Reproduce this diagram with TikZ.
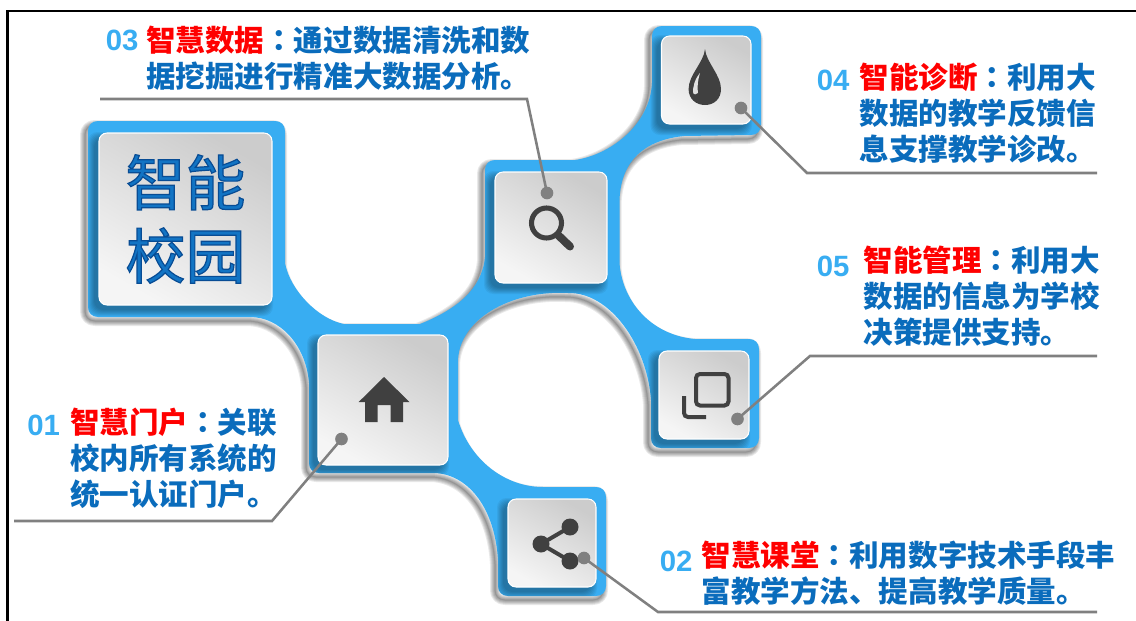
\documentclass[tikz,border=0pt]{standalone}
\usepackage{fontspec}
\newfontfamily\cjk{Noto Sans CJK SC}
\newfontfamily\cjktc{Noto Sans CJK TC}
\newfontfamily\numfont{Liberation Sans}
\definecolor{blob}{HTML}{38ADF2}
\definecolor{txtblue}{HTML}{0A6CBC}
\definecolor{bigblue}{HTML}{1274C4}
\definecolor{icon}{HTML}{404040}
\definecolor{leadgray}{HTML}{808080}
\newcommand\hlt[1]{\textcolor{red}{#1}}
\newcommand\cln{{\cjktc\bfseries ：}}
\newcommand\bevel[1]{\special{pdf:code q 2 Tr 0.9 w 0.03 0.30 0.58 RG}#1\special{pdf:code Q}}
\tikzset{
  blobpath/.style={insert path={
    (98,121) -- (275,121) .. controls (281,121) and (285,125) .. (285,131) -- (285,263)
    .. controls (290,290) and (318,319) .. (344,324) -- (420,324)
    .. controls (455,310) and (482,290) .. (485,257) -- (485,170)
    .. controls (485,164) and (489,160) .. (495,160) -- (575,160)
    .. controls (610,155) and (650,125) .. (652,83) -- (652,36)
    .. controls (652,30) and (656,26) .. (662,26) -- (751,26)
    .. controls (757,26) and (761,30) .. (761,36) -- (761,125)
    .. controls (761,131) and (757,135) .. (751,135) -- (684,136)
    .. controls (645,140) and (621,160) .. (619.5,200) -- (619.5,263)
    .. controls (622,300) and (650,335) .. (695,339) -- (749,339)
    .. controls (755,339) and (759,343) .. (759,349) -- (759,438)
    .. controls (759,444) and (755,448) .. (749,448) -- (661,448)
    .. controls (655,448) and (651,444) .. (651,438) -- (651,400)
    .. controls (647,345) and (610,292) .. (568,293)
    .. controls (510,290) and (458,320) .. (458,362) -- (458,420)
    .. controls (470,460) and (505,487) .. (543,487) -- (596,487)
    .. controls (602,487) and (606,491) .. (606,497) -- (606,586)
    .. controls (606,592) and (602,596) .. (596,596) -- (508,596)
    .. controls (502,596) and (498,592) .. (498,586) -- (498,560)
    .. controls (495,510) and (470,475) .. (435,473) -- (319,473)
    .. controls (313,473) and (309,469) .. (309,463) -- (309,383)
    .. controls (306,345) and (280,317) .. (250,317) -- (98,317)
    .. controls (92,317) and (88,313) .. (88,307) -- (88,131)
    .. controls (88,125) and (92,121) .. (98,121) -- cycle}},
  card/.style n args={2}{rectangle, rounded corners=6pt, draw=white, line width=0.8pt,
    shading=axis, top color=black!20, bottom color=black!4, shading angle=-30,
    minimum width=#1*0.75pt, minimum height=#2*0.75pt, inner sep=0pt},
  cardtext/.style={align=center, text=bigblue, font=\cjk\fontsize{45}{55}\selectfont},
  leader/.style={draw=leadgray, line width=1.9pt, line join=miter},
  dotmark/.style={circle, fill=leadgray, minimum size=9.5pt, inner sep=0pt},
  numlabel/.style={anchor=west, inner sep=0pt, text=blob, font=\numfont\bfseries\fontsize{22}{26}\selectfont},
  bodylabel/.style={anchor=north west, inner sep=0pt, align=left, text=txtblue,
    font=\cjk\bfseries\fontsize{22.15}{27}\selectfont},
  iconfill/.style={fill=icon, draw=none},
  iconline/.style={draw=icon, line width=3pt, fill=none},
}
\newcommand\cardshade[4]{%
  \foreach \w in {6,5,4,3,2,1,0}{
    \fill[black, fill opacity=0.05, rounded corners=7pt]
      (#1-5-\w,#2+5-\w) rectangle (#3-5+\w,#4+5+\w);
  }}
\begin{document}
\begin{tikzpicture}[x=0.75pt,y=-0.75pt]
\useasboundingbox (0,0) rectangle (1136,621);
\fill[white] (0,0) rectangle (1136,621);
\draw[black, line width=1.6pt] (7.5,621) -- (7.5,11) -- (1136,11);
% soft shadow of the blue body
\begin{scope}[shift={(-3,4)}]
  \foreach \w in {10,8,6,4,2,0.5}{
    \draw[black, draw opacity=0.085, line width=\w*0.75pt, line join=round, blobpath];
  }
\end{scope}
\fill[blob, blobpath];
% shadows of the cards on the blue body
\begin{scope}
  \clip[blobpath];
  \cardshade{99}{133}{272}{305}
  \cardshade{318}{335}{448}{465}
  \cardshade{495}{172}{607}{283}
  \cardshade{661.5}{36}{751}{124}
  \cardshade{659}{351}{749}{439}
  \cardshade{508}{499}{596}{587}
\end{scope}
% cards
\node[card={173}{172}, cardtext] (big) at (185.5,219) {\bevel{智能\\校园}};
\node[card={130}{130}] (home) at (383,400) {};
\node[card={112}{111}] (search) at (551,227.5) {};
\node[card={89.5}{88}] (drop) at (706.25,80) {};
\node[card={90}{88}] (copy) at (704,395) {};
\node[card={88}{88}] (share) at (552,543) {};
% home icon
\fill[iconfill] (384,377) -- (409.5,402) -- (403,402) -- (403,422) -- (390.6,422) -- (390.6,405)
  -- (377.5,405) -- (377.5,422) -- (365,422) -- (365,402) -- (358.7,402) -- cycle;
% search icon
\draw[iconline, line width=3.8pt] (546.5,223) circle (15);
\draw[icon, line width=6pt, line cap=round] (558,235) -- (570,246.5);
% drop icon
\fill[iconfill] (705,49) .. controls (704,62) and (688.6,75) .. (688.6,89)
  .. controls (688.6,99) and (696,105) .. (705,105)
  .. controls (714,105) and (721,99) .. (721,89)
  .. controls (721,75) and (706,62) .. (705,49) -- cycle;
\fill[black!12] (700,73) .. controls (694,80) and (693,88) .. (693,92)
  .. controls (693,95) and (697,95) .. (698,93) .. controls (697,85) and (698,80) .. (700,73) -- cycle;
% copy icon
\draw[iconline, rounded corners=3pt] (696,374) rectangle (728.5,405.5);
\draw[iconline, rounded corners=3pt] (684,396) -- (684,417) -- (706,417);
% share icon
\draw[iconline] (570,527) -- (541,544) -- (570,561);
\fill[iconfill] (541,544) circle (8.5);
\fill[iconfill] (570,527) circle (8.5);
\fill[iconfill] (570,561) circle (8.5);
% connectors
\node[dotmark] (d1) at (341.5,439) {};
\node[dotmark] (d2) at (584,558) {};
\node[dotmark] (d3) at (547,193) {};
\node[dotmark] (d4) at (741,108) {};
\node[dotmark] (d5) at (737.5,419) {};
\coordinate (e1) at (14,521);   \coordinate (k1) at (272,521);
\coordinate (e2) at (1097,612); \coordinate (k2) at (658,612);
\coordinate (e3) at (100,99);   \coordinate (k3) at (527,99);
\coordinate (e4) at (1097,173); \coordinate (k4) at (807,173);
\coordinate (e5) at (1097,356); \coordinate (k5) at (810,356);
\draw[leader] (e1) -- (k1) -- (d1.center);
\draw[leader] (e2) -- (k2) -- (d2.center);
\draw[leader] (e3) -- (k3) -- (d3.center);
\draw[leader] (e4) -- (k4) -- (d4.center);
\draw[leader] (e5) -- (k5) -- (d5.center);
% labels
\node[numlabel] (n1) at (27,425) {01};
\node[numlabel] (n2) at (659.5,561) {02};
\node[numlabel] (n3) at (105.5,40) {03};
\node[numlabel] (n4) at (816.5,80) {04};
\node[numlabel] (n5) at (816.5,266) {05};
\node[bodylabel] (t1) at (70,408) {\hlt{智慧门户}\cln 关联\\校内所有系统的\\统一认证门户。};
\node[bodylabel] (t2) at (701.5,541) {\hlt{智慧课堂}\cln 利用数字技术手段丰\\富教学方法、提高教学质量。};
\node[bodylabel] (t3) at (146,25.5) {\hlt{智慧数据}\cln 通过数据清洗和数\\据挖掘进行精准大数据分析。};
\node[bodylabel] (t4) at (859.5,63) {\hlt{智能诊断}\cln 利用大\\数据的教学反馈信\\息支撑教学诊改。};
\node[bodylabel] (t5) at (863.5,245.5) {\hlt{智能管理}\cln 利用大\\数据的信息为学校\\决策提供支持。};
\end{tikzpicture}
\end{document}
